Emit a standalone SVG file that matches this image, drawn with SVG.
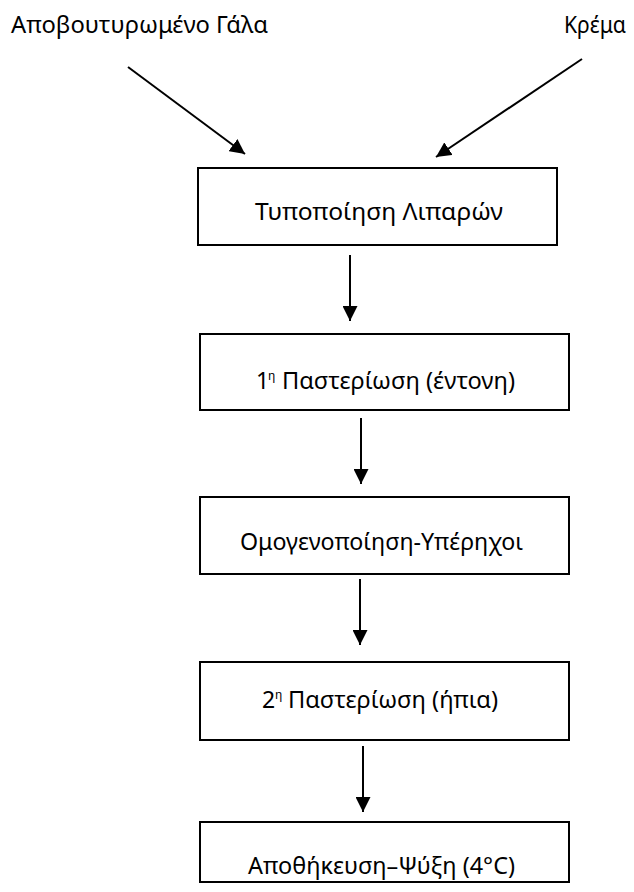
<svg xmlns="http://www.w3.org/2000/svg" width="634" height="892" viewBox="0 0 634 892">
  <style>
    .box { fill: #ffffff; stroke: #000000; stroke-width: 2; }
    .lbl { font-family: "Noto Sans", "Open Sans", sans-serif; font-size: 23px; fill: #000000; }
    .sup { font-family: "Noto Sans", "Open Sans", sans-serif; font-size: 12px; fill: #000000; }
    .conn { stroke: #000000; stroke-width: 2; fill: none; marker-end: url(#head); }
  </style>
  <defs>
    <marker id="head" viewBox="0 0 15 15" refX="15" refY="7.5" markerWidth="15" markerHeight="15" markerUnits="userSpaceOnUse" orient="auto">
      <path d="M0,0 L15,7.5 L0,15 Z" fill="#000000"/>
    </marker>
  </defs>

  <rect width="634" height="892" fill="#ffffff"/>

  <!-- Inputs -->
  <g id="skim-milk">
    <text class="lbl" x="11" y="33" textLength="257" lengthAdjust="spacingAndGlyphs">Αποβουτυρωμένο Γάλα</text>
  </g>
  <g id="cream">
    <text class="lbl" x="564" y="33" textLength="62" lengthAdjust="spacingAndGlyphs">Κρέμα</text>
  </g>

  <!-- Process steps -->
  <g id="fat-standardisation">
    <rect class="box" x="198" y="168" width="359" height="77"/>
    <text class="lbl" x="255" y="220" textLength="248" lengthAdjust="spacingAndGlyphs">Τυποποίηση Λιπαρών</text>
  </g>
  <g id="pasteurisation-1">
    <rect class="box" x="200" y="334" width="369" height="76"/>
    <text class="lbl" x="256" y="389">1</text>
    <text class="sup" x="268" y="380">η</text>
    <text class="lbl" x="282" y="389" textLength="233" lengthAdjust="spacingAndGlyphs">Παστερίωση (έντονη)</text>
  </g>
  <g id="homogenisation">
    <rect class="box" x="200" y="497" width="369" height="77"/>
    <text class="lbl" x="240" y="550" textLength="283" lengthAdjust="spacingAndGlyphs">Ομογενοποίηση-Υπέρηχοι</text>
  </g>
  <g id="pasteurisation-2">
    <rect class="box" x="200" y="662" width="369" height="78"/>
    <text class="lbl" x="262" y="708">2</text>
    <text class="sup" x="275" y="699">η</text>
    <text class="lbl" x="288" y="708" textLength="210" lengthAdjust="spacingAndGlyphs">Παστερίωση (ήπια)</text>
  </g>
  <g id="storage-cooling">
    <rect class="box" x="200" y="822" width="369" height="60"/>
    <text class="lbl" x="248" y="874" textLength="267" lengthAdjust="spacingAndGlyphs">Αποθήκευση–Ψύξη (4°C)</text>
  </g>

  <!-- Connectors -->
  <g id="connectors">
    <line class="conn" x1="128" y1="67" x2="245" y2="154"/>
    <line class="conn" x1="582" y1="59" x2="436" y2="157"/>
    <line class="conn" x1="350" y1="255" x2="350" y2="321"/>
    <line class="conn" x1="361" y1="418" x2="361" y2="484"/>
    <line class="conn" x1="360" y1="579" x2="360" y2="645"/>
    <line class="conn" x1="363" y1="746" x2="363" y2="812"/>
  </g>
</svg>
